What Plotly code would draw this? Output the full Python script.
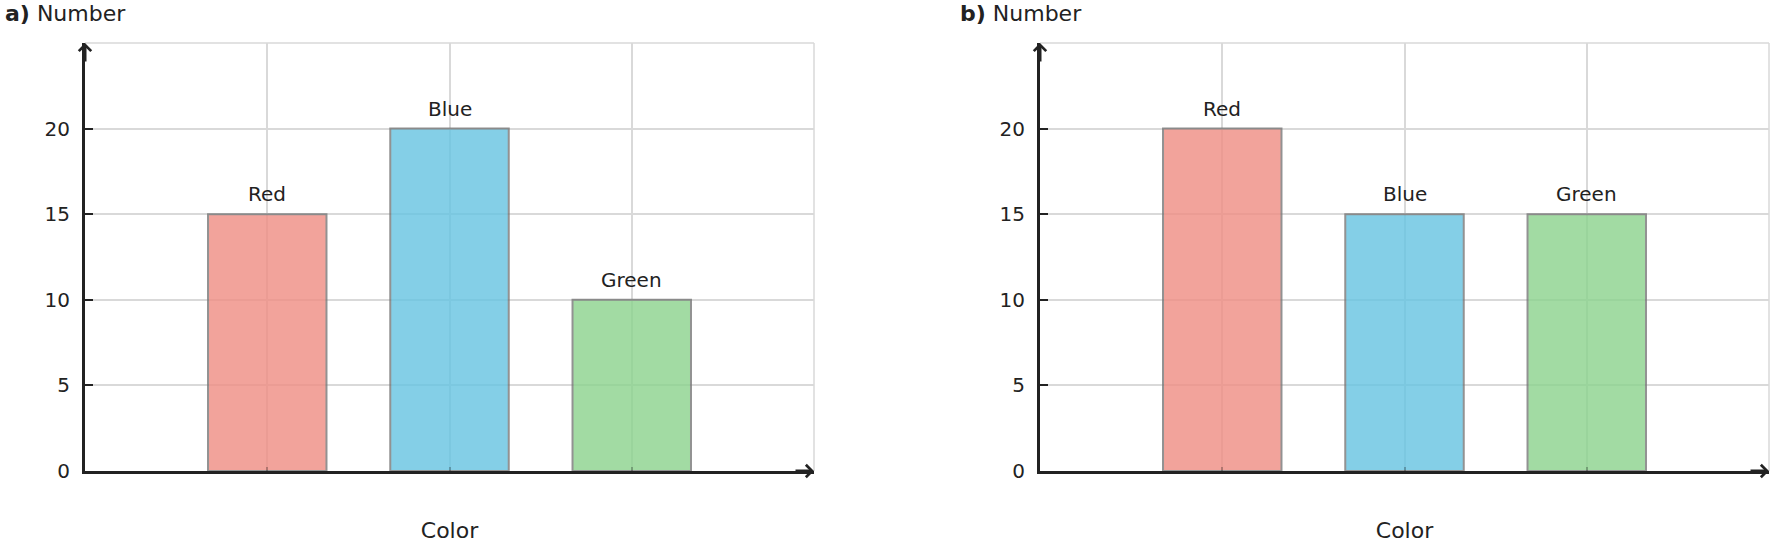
import plotly.graph_objects as go
from plotly.subplots import make_subplots

categories = ['Red', 'Blue', 'Green']
counts_a = [15, 20, 10]
counts_b = [20, 15, 15]
panel_labels = ['a)', 'b)']
y_title = 'Number'
x_title = 'Color'

bar_colors = ['#F08D83', '#66C4E2', '#8BD38D']
ink = '#222222'
grid = '#d9d9d9'
font_family = 'DejaVu Sans'

W, H = 1773, 548

fig = make_subplots(rows=1, cols=2, horizontal_spacing=0.05)

for col, counts in enumerate([counts_a, counts_b], start=1):
    fig.add_trace(go.Bar(
        x=categories,
        y=counts,
        width=0.65,
        marker=dict(color=bar_colors, opacity=0.8,
                    line=dict(color='#777777', width=2)),
        showlegend=False,
        hoverinfo='x+y',
    ), row=1, col=col)

    # value names above each bar
    sfx = '' if col == 1 else str(col)
    for cat, val in zip(categories, counts):
        fig.add_annotation(
            x=cat, y=val, xref=f'x{sfx}', yref=f'y{sfx}',
            text=cat, showarrow=False, yanchor='bottom', yshift=6,
            font=dict(size=20, color=ink, family=font_family),
        )

x_domains = [[85 / W, 814 / W], [1040 / W, 1769 / W]]

for i in range(2):
    sx = '' if i == 0 else str(i + 1)
    fig.update_layout({
        f'xaxis{sx}': dict(
            domain=x_domains[i],
            range=[-1, 3],
            showticklabels=False,
            ticks='inside', ticklen=4, tickwidth=2, tickcolor='rgba(0,0,0,0.25)',
            showgrid=True, gridcolor=grid, gridwidth=1.5,
            showline=True, linecolor=ink, linewidth=3,
            zeroline=False,
            title=dict(text=x_title, standoff=50,
                       font=dict(size=22, color=ink, family=font_family)),
        ),
        f'yaxis{sx}': dict(
            range=[0, 25],
            tickvals=[0, 5, 10, 15, 20],
            ticks='inside', ticklen=8, tickwidth=2, tickcolor=ink,
            ticklabelstandoff=8,
            tickfont=dict(size=20, color=ink, family=font_family),
            showgrid=True, gridcolor=grid, gridwidth=1.5,
            showline=True, linecolor=ink, linewidth=3,
            zeroline=False,
        ),
    })

    xd = f'x{sx} domain'
    yd = f'y{sx} domain'

    # light frame on the top / right edge
    fig.add_shape(type='line', xref=xd, yref=yd, x0=1, x1=1, y0=0, y1=1,
                  line=dict(color=grid, width=1.5), layer='below')
    fig.add_shape(type='line', xref=xd, yref=yd, x0=0, x1=1, y0=1, y1=1,
                  line=dict(color=grid, width=1.5), layer='below')

    # arrow heads on the axes
    fig.add_annotation(xref=xd, yref=yd, x=1, y=0, ax=-20, ay=0,
                       axref='pixel', ayref='pixel', text='', showarrow=True,
                       arrowhead=4, arrowsize=0.8, arrowwidth=3, arrowcolor=ink)
    fig.add_annotation(xref=xd, yref=yd, x=0, y=1, ax=0, ay=20,
                       axref='pixel', ayref='pixel', text='', showarrow=True,
                       arrowhead=4, arrowsize=0.8, arrowwidth=3, arrowcolor=ink)

    # panel title
    fig.add_annotation(xref=xd, yref=yd, x=0, y=1, xshift=-82, yshift=30,
                       xanchor='left', yanchor='middle', showarrow=False,
                       text=f'<b>{panel_labels[i]}</b> {y_title}',
                       font=dict(size=22, color=ink, family=font_family))

fig.update_layout(
    width=W, height=H,
    margin=dict(l=0, r=0, t=43, b=77),
    plot_bgcolor='white', paper_bgcolor='white',
    bargap=0.35,
    font=dict(family=font_family, color=ink),
)

# drop the default page margin so the figure sits at the window's corner
fig.write_html('out.html', config={'displayModeBar': False},
               post_script="document.body.style.margin='0';")
